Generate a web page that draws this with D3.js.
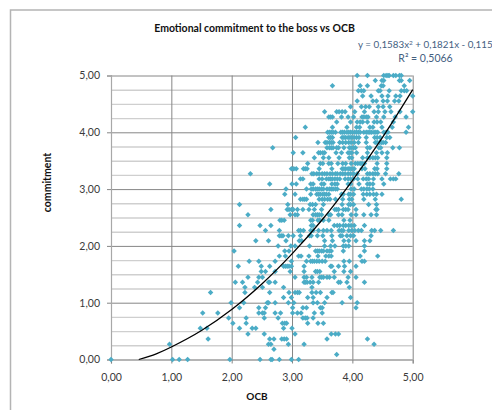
<!DOCTYPE html>
<html>
<head>
<meta charset="utf-8">
<script src="https://cdn.jsdelivr.net/npm/d3@7"></script>
<style>
html, body { margin: 0; padding: 0; background: #fff; overflow: hidden; }
text { font-family: Lato, "Open Sans", sans-serif; }
</style>
</head>
<body>
<svg id="chart" width="492" height="410"></svg>
<script>
var titleText= "Emotional commitment to the boss vs OCB";
var xAxisTitle= "OCB";
var yAxisTitle= "commitment";
var xTicks= [0,1,2,3,4,5];
var yTicks= [0,1,2,3,4,5];
var yMinorTicks= [0.25,0.5,0.75,1.25,1.5,1.75,2.25,2.5,2.75,3.25,3.5,3.75,4.25,4.5,4.75];

//Trendline
var trendOCB= [0.46,0.75,1,1.5,2,2.5,3,3.5,4,4.5,5];
var trendCommitment= [0,0.10,0.22,0.51,0.88,1.33,1.86,2.46,3.15,3.91,4.75];

//Answers sit on fixed levels, one list of OCB values for each level
var levels= [5.00,4.91,4.82,4.73,4.64,4.55,4.45,4.36,4.27,4.18,4.09,4.00,3.91,3.82,
             3.73,3.64,3.55,3.45,3.36,3.27,3.18,3.09,3.00,2.91,2.82,2.73,2.64,2.55,
             2.45,2.36,2.27,2.18,2.09,2.00,1.91,1.82,1.73,1.64,1.55,1.45,1.36,1.27,
             1.18,1.09,1.00,0.91,0.82,0.73,0.64,0.55,0.45,0.36,0.27,0.18,0.09,0.00];
var ocbAtLevel= [
    [4.08,4.25,4.52,4.56,4.59,4.61,4.68,4.72,4.78,4.81],
    [4.38,4.49,4.52,4.78,4.81,4.95],
    [3.67,4.13,4.25,4.48,4.51,4.86],
    [4.10,4.15,4.19,4.43,4.46,4.61,4.81,4.86,4.90],
    [4.17,4.31,4.49,4.59,4.72,4.79,5.00],
    [4.08,4.34,4.40,4.51,4.58,4.70,4.77],
    [3.97,4.15,4.22,4.28,4.43,4.51,4.62],
    [3.54,3.74,3.78,3.83,3.88,4.04,4.20,4.36,4.43,4.54,4.64,4.79,5.00],
    [3.61,3.64,3.67,3.82,3.93,4.02,4.16,4.19,4.23,4.26,4.40,4.52,4.71,4.89],
    [3.74,3.97,4.08,4.13,4.17,4.25,4.36,4.41,4.47,4.68],
    [3.22,3.67,3.91,4.07,4.12,4.29,4.34,4.49,4.66,4.93],
    [3.59,3.62,3.65,3.68,3.72,3.81,3.84,3.87,3.91,3.94,3.97,4.00,4.04,4.07,4.10,4.13,4.19,4.23,4.26,4.29,4.32,4.36,4.39,4.42,4.52,4.56,4.59,4.89],
    [3.06,3.61,3.64,3.67,3.83,3.86,3.89,3.93,3.96,3.99,4.03,4.07,4.11,4.23,4.37,4.41,4.46,4.57,4.62],
    [3.43,3.55,3.58,3.62,3.65,3.68,3.79,3.84,3.89,3.94,3.98,4.03,4.10,4.23,4.38,4.41,4.45,4.48,4.51,4.55],
    [2.68,3.58,3.62,3.65,3.68,3.74,3.77,3.86,3.95,3.98,4.02,4.05,4.25,4.29,4.44,4.47,4.67,4.78],
    [3.02,3.18,3.44,3.47,3.51,3.54,3.73,3.82,3.93,3.96,3.99,4.07,4.25,4.40,4.49,4.58],
    [3.37,3.52,3.61,3.78,3.95,3.99,4.17,4.25,4.29,4.34,4.38,4.42,4.57],
    [3.26,3.47,3.51,3.61,3.65,3.76,3.84,3.89,3.98,4.05,4.09,4.13,4.16,4.20,4.41,4.57],
    [2.99,3.03,3.07,3.19,3.22,3.25,3.45,3.66,3.83,3.86,3.89,3.93,3.96,3.99,4.03,4.16,4.21,4.37,4.41,4.57],
    [2.31,3.33,3.36,3.41,3.45,3.50,3.54,3.58,3.63,3.67,3.72,3.75,3.80,3.84,3.88,3.93,3.97,4.02,4.08,4.25,4.29,4.34,4.38,4.42,4.55,4.77],
    [3.14,3.18,3.45,3.50,3.57,3.61,3.64,3.67,3.71,3.75,3.79,3.88,3.93,3.97,4.02,4.09,4.18,4.23,4.27,4.35,4.49,4.63,4.68,4.72],
    [2.63,3.00,3.07,3.31,3.35,3.49,3.53,3.66,3.71,3.75,3.93,3.97,4.11,4.25,4.29,4.34,4.52],
    [2.90,3.24,3.32,3.35,3.39,3.42,3.45,3.49,3.52,3.58,3.62,3.65,3.68,3.72,3.75,3.98,4.03,4.15,4.19,4.24,4.28,4.34],
    [2.88,3.05,3.31,3.41,3.44,3.47,3.51,3.54,3.57,3.61,3.82,3.85,3.94,3.97,4.02,4.18,4.24,4.29,4.35,4.40,4.49],
    [3.14,3.18,3.21,3.24,3.45,3.50,3.54,3.59,3.63,3.72,3.84,3.95,3.99,4.19,4.38,4.81],
    [2.13,2.93,3.30,3.34,3.39,3.52,3.83,3.94,3.97,4.02,4.27,4.40],
    [2.65,2.92,2.95,2.99,3.02,3.09,3.18,3.28,3.37,3.49,3.71,3.74,3.77,3.85,3.89,3.93,4.06,4.39,4.41],
    [2.27,2.97,3.05,3.09,3.35,3.39,3.42,3.45,3.49,3.61,3.64,3.77,3.83,3.98,4.06,4.19,4.31,4.40],
    [2.80,2.83,2.87,3.31,3.34,3.43,3.46,3.52,3.61,3.86,3.96],
    [2.13,2.47,2.65,3.32,3.35,3.70,3.75,3.79,3.85,3.89,3.94,3.98,4.03,4.20],
    [2.56,2.79,3.11,3.14,3.19,3.31,3.35,3.44,3.52,3.58,3.65,3.78,3.82,3.85,3.94,3.99,4.04,4.10,4.15,4.32,4.37,4.47,4.68],
    [2.79,2.82,2.85,2.94,3.02,3.14,3.29,3.32,3.42,3.51,3.66,3.80,3.83,3.91,3.97,4.02,4.31],
    [2.40,2.61,2.90,3.12,3.16,3.54,3.67,3.86,3.94,4.06,4.20,4.29],
    [2.77,2.98,3.05,3.29,3.54,3.64,3.71,3.85,3.89,3.94,4.20],
    [2.04,2.88,2.95,3.39,3.42,3.45,3.49,3.52,3.58,3.62,3.65,3.85,4.20],
    [2.79,2.89,3.11,3.15,3.28,3.43,3.56,3.61,3.65,4.13,4.42],
    [2.29,2.45,2.72,2.99,3.24,3.31,3.34,3.37,3.41,3.45,3.50,3.55,3.86,3.95,4.16,4.20],
    [2.11,2.49,2.63,2.86,2.89,2.92,2.95,2.99,3.20,3.64,3.66,3.77,3.87,4.06],
    [2.49,2.56,2.72,2.97,3.20,3.39,3.42,3.46,3.70,3.86,3.97],
    [2.27,2.45,2.51,3.05,3.20,3.24,3.33,3.46,3.49,3.52,3.58,3.62,3.70,3.93,4.06],
    [2.06,2.18,2.43,2.61,2.63,2.72,3.20,3.22,3.25,3.30,3.35,3.44,3.77,3.80,3.91,4.20],
    [2.22,2.38,2.51,2.86,3.33,3.95],
    [1.65,2.22,2.63,2.95,3.05,3.09,3.12,3.33,3.40,3.47,3.66,3.68],
    [2.86,2.99,3.26,3.35,3.58,3.97],
    [1.99,2.20,2.59,2.61,2.72,2.94,3.03,3.35,3.42,3.54,3.83,4.08],
    [2.13,2.45,2.56,3.01,3.18,3.24,3.47,3.50,4.06],
    [1.52,1.77,2.45,2.51,2.54,2.72,2.81,3.01,3.09,3.15,3.37,3.50],
    [1.95,2.24,2.54,2.77,3.18,3.22,3.25,3.35],
    [2.02,2.24,2.84,2.88,2.91,3.26,3.43,3.52],
    [1.48,1.59,2.13,2.34,2.40,2.86,3.00],
    [2.27,2.54,3.05,3.65,3.72,3.77],
    [1.61,2.63,2.70,2.83,2.87,2.91,3.58,4.25],
    [0.97,2.61,2.65,2.94,3.20,4.36],
    [2.70],
    [3.74],
    [0,1.02,1.13,1.27,1.97,2.47,2.65,2.67,2.79,2.99,3.11]
];

var svg= d3.select("#chart");

//Plot area
var x= d3.scaleLinear().domain([0,5]).range([111,412.7]);
var y= d3.scaleLinear().domain([0,5]).range([359.5,75.5]);

var fmt= function(d) { return d3.format(".2f")(d).replace(".",","); };

//Outer chart frame, runs off the window on the right and at the bottom
svg.append("path")
    .attr("d","M10.5,420V10H500")
    .attr("fill","none")
    .attr("stroke","#b4b4b4")
    .attr("stroke-width",1.5);

//Minor gridlines first so the major ones sit on top
var minorAxis= d3.axisLeft(y).tickValues(yMinorTicks).tickSize(-(x(5)-x(0))).tickFormat("");
svg.append("g")
    .attr("class","minor")
    .attr("transform","translate("+x(0)+",0)")
    .call(minorAxis);
svg.selectAll(".minor path").remove();
svg.selectAll(".minor line").attr("stroke","#cfcfcf").attr("stroke-width",1.4);

var xGrid= d3.axisBottom(x).tickValues(xTicks).tickSize(-(y(0)-y(5))).tickFormat("");
svg.append("g")
    .attr("class","xgrid")
    .attr("transform","translate(0,"+y(0)+")")
    .call(xGrid);
svg.selectAll(".xgrid path").remove();
svg.selectAll(".xgrid line").attr("stroke","#868686");

var yGrid= d3.axisLeft(y).tickValues(yTicks).tickSize(-(x(5)-x(0))).tickFormat("");
svg.append("g")
    .attr("class","ygrid")
    .attr("transform","translate("+x(0)+",0)")
    .call(yGrid);
svg.selectAll(".ygrid path").remove();
svg.selectAll(".ygrid line").attr("stroke","#868686");

//Axes with the tick labels
var xAxis= d3.axisBottom(x).tickValues(xTicks).tickSize(4).tickPadding(10).tickFormat(fmt);
var gx= svg.append("g")
    .attr("class","xaxis")
    .attr("transform","translate(0,"+y(0)+")")
    .call(xAxis);
var yAxis= d3.axisLeft(y).tickValues(yTicks).tickSize(4).tickPadding(7).tickFormat(fmt);
var gy= svg.append("g")
    .attr("class","yaxis")
    .attr("transform","translate("+x(0)+",0)")
    .call(yAxis);
svg.selectAll(".xaxis path, .yaxis path").attr("stroke","#a8a8a8").attr("stroke-width",1.2);
svg.selectAll(".xaxis line, .yaxis line").attr("stroke","#868686");
svg.selectAll(".xaxis text, .yaxis text")
    .attr("fill","#3a3a3a")
    .style("font-family","Lato, sans-serif")
    .style("font-size","10.5px");

//Points
var points= [];
levels.forEach(function(level,i) {
    ocbAtLevel[i].forEach(function(ocb) {
        points.push({ocb:ocb, commitment:level});
    });
});
//Excel style diamond, as wide as it is tall
var excelDiamond= {
    draw: function(context,size) {
        var r= Math.sqrt(size/2);
        context.moveTo(0,-r);
        context.lineTo(r,0);
        context.lineTo(0,r);
        context.lineTo(-r,0);
        context.closePath();
    }
};
var diamond= d3.symbol().type(excelDiamond).size(15);
svg.append("g")
    .attr("class","points")
    .selectAll("path")
    .data(points)
    .enter()
    .append("path")
    .attr("d",diamond)
    .attr("fill","#4bacc6")
    .attr("transform",function(d) { return "translate("+x(d.ocb)+","+y(d.commitment)+")"; });

//Trendline
var trend= d3.line()
    .x(function(d,i) { return x(d); })
    .y(function(d,i) { return y(trendCommitment[i]); })
    .curve(d3.curveCatmullRom);
svg.append("path")
    .attr("d",trend(trendOCB))
    .attr("fill","none")
    .attr("stroke","#000")
    .attr("stroke-width",1.3);

//Titles
svg.append("text")
    .attr("x",254.5)
    .attr("y",32)
    .attr("text-anchor","middle")
    .attr("font-size",10.5)
    .attr("font-weight","bold")
    .attr("fill","#111")
    .text(titleText);
svg.append("text")
    .attr("x",257)
    .attr("y",400)
    .attr("text-anchor","middle")
    .attr("font-size",10)
    .attr("font-weight","bold")
    .attr("fill","#111")
    .text(xAxisTitle);
svg.append("text")
    .attr("transform","translate(51,182.5) rotate(-90)")
    .attr("text-anchor","middle")
    .attr("font-size",10.5)
    .attr("font-weight","bold")
    .attr("fill","#111")
    .text(yAxisTitle);

//Trendline label, sized to end right at the window edge
var eq= svg.append("text")
    .attr("x",358)
    .attr("y",48)
    .attr("font-size",9.8)
    .attr("fill","#44607f");
eq.append("tspan").text("y = 0,1583x");
eq.append("tspan").attr("font-size",6.5).attr("dy",-3.5).text("2");
eq.append("tspan").attr("dy",3.5).text(" + 0,1821x - 0,115");
svg.append("text")
    .attr("x",425.5)
    .attr("y",62)
    .attr("text-anchor","middle")
    .attr("font-size",10.5)
    .attr("fill","#44607f")
    .text("R² = 0,5066");
</script>
</body>
</html>
